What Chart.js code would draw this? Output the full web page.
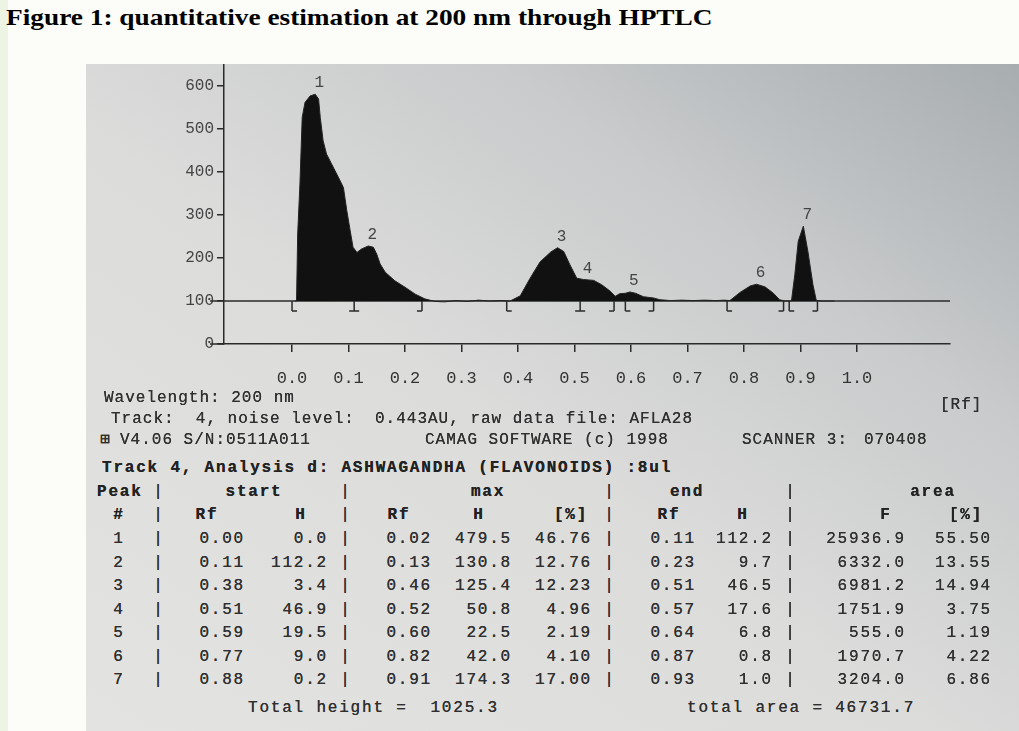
<!DOCTYPE html>
<html lang="en">
<head>
<meta charset="UTF-8">
<title>Figure 1: quantitative estimation at 200 nm through HPTLC</title>
<script src="https://cdn.jsdelivr.net/npm/chart.js"></script>
<style>
  body { margin: 0; width: 1019px; height: 731px; position: relative; overflow: hidden; background: #eef4e3; }
  .folha { position: absolute; left: 8px; top: 0; right: 0; bottom: 0; background: #fcfdf9; }
  .titulo { position: absolute; left: 6px; top: 4px; font: bold 24px "Liberation Serif", serif; color: #000; white-space: nowrap; transform-origin: 0 0; }
  .foto { position: absolute; left: 86px; top: 64px; width: 933px; height: 667px;
    background: linear-gradient(to bottom left, #a8adb0 0%, #c9cbcc 28%, #dcdcdb 55%, #e3e3e1 100%); }
  #grafico { position: absolute; left: 0; top: 0; }
  .t { position: absolute; white-space: pre; font: 16px "Liberation Mono", monospace; letter-spacing: 1px; color: #2f2f2f; line-height: 1; text-shadow: 0 0 0.6px #2f2f2f; }
  .tab { letter-spacing: 1.8px; }
  .b { font-weight: bold; color: #222; }
</style>
</head>
<body>
<div class="folha"></div>
<div class="titulo" id="titulo">Figure 1: quantitative estimation at 200 nm through HPTLC</div>
<div class="foto"></div>
<canvas id="grafico" width="1019" height="400"></canvas>
<div id="textos"></div>

<script>
  // scan da trilha 4 (Rf x AU)
  const rfScan = [
    0.005, 0.008, 0.010, 0.014, 0.018, 0.023, 0.032, 0.041, 0.047, 0.050,
    0.055, 0.061, 0.070, 0.082, 0.091, 0.097, 0.103, 0.108, 0.115, 0.123,
    0.135, 0.144, 0.150, 0.156, 0.165, 0.182, 0.200, 0.218, 0.235, 0.253,
    0.270, 0.290, 0.310, 0.330, 0.350, 0.370, 0.386, 0.404, 0.421, 0.439,
    0.458, 0.470, 0.481, 0.492, 0.504, 0.516, 0.534, 0.548, 0.563, 0.572,
    0.580, 0.590, 0.598, 0.608, 0.622, 0.640, 0.651, 0.670, 0.690, 0.710,
    0.730, 0.750, 0.765, 0.775, 0.793, 0.811, 0.822, 0.837, 0.852, 0.863,
    0.872, 0.880, 0.884, 0.890, 0.896, 0.905, 0.913, 0.922, 0.928, 0.940,
    0.960
  ];
  const auScan = [
    100, 100, 256, 372, 527, 562, 577, 581, 570, 527,
    473, 442, 419, 388, 364, 310, 263, 225, 213, 221,
    228, 225, 209, 186, 167, 147, 132, 116, 105, 99,
    98, 101, 99, 102, 100, 101, 100, 112, 152, 191,
    214, 224, 215, 184, 153, 150, 148, 138, 123, 111,
    117, 118, 121, 118, 110, 107, 103, 101, 102, 101,
    102, 101, 102, 101, 120, 135, 139, 133, 118, 103,
    100, 100, 100, 162, 239, 274, 216, 138, 101, 100,
    100
  ];
  const linhaBase = 100;
  const rfTicks = [0.0, 0.1, 0.2, 0.3, 0.4, 0.5, 0.6, 0.7, 0.8, 0.9, 1.0];
  const auTicks = [0, 100, 200, 300, 400, 500, 600];

  // tabela de picos
  const peakNo = [1, 2, 3, 4, 5, 6, 7];
  const startRf = [0.00, 0.11, 0.38, 0.51, 0.59, 0.77, 0.88];
  const startH = [0.0, 112.2, 3.4, 46.9, 19.5, 9.0, 0.2];
  const maxRf = [0.02, 0.13, 0.46, 0.52, 0.60, 0.82, 0.91];
  const maxH = [479.5, 130.8, 125.4, 50.8, 22.5, 42.0, 174.3];
  const maxPct = [46.76, 12.76, 12.23, 4.96, 2.19, 4.10, 17.00];
  const endRf = [0.11, 0.23, 0.51, 0.57, 0.64, 0.87, 0.93];
  const endH = [112.2, 9.7, 46.5, 17.6, 6.8, 0.8, 1.0];
  const areaF = [25936.9, 6332.0, 6981.2, 1751.9, 555.0, 1970.7, 3204.0];
  const areaPct = [55.50, 13.55, 14.94, 3.75, 1.19, 4.22, 6.86];
  const totalHeight = 1025.3;
  const totalArea = 46731.7;

  const corTraco = '#2a2a2a';
  const fonteMono = 'Liberation Mono';

  // titulo com a largura do original
  const tit = document.getElementById('titulo');
  tit.style.transform = 'scaleX(' + (706 / tit.offsetWidth) + ')';

  const marcasPlugin = {
    id: 'marcas',
    afterDatasetsDraw(chart) {
      const { ctx, scales: { x, y } } = chart;
      const yb = y.getPixelForValue(linhaBase);
      ctx.save();
      ctx.strokeStyle = corTraco;
      ctx.lineWidth = 1.5;
      // prolongamento do eixo x a esquerda
      ctx.beginPath();
      ctx.moveTo(chart.chartArea.left - 14, y.getPixelForValue(0));
      ctx.lineTo(chart.chartArea.left, y.getPixelForValue(0));
      ctx.stroke();
      // marcas de inicio / fim dos picos
      const desenha = (rf, tipo) => {
        const px = x.getPixelForValue(rf);
        ctx.beginPath();
        ctx.moveTo(px, yb);
        ctx.lineTo(px, yb + 10);
        if (tipo !== 'fim') { ctx.moveTo(px, yb + 10); ctx.lineTo(px + 5, yb + 10); }
        if (tipo !== 'ini') { ctx.moveTo(px, yb + 10); ctx.lineTo(px - 5, yb + 10); }
        ctx.stroke();
      };
      peakNo.forEach((p, i) => {
        if (i === 0 || endRf[i - 1] !== startRf[i]) desenha(startRf[i], 'ini');
        const junta = i < peakNo.length - 1 && startRf[i + 1] === endRf[i];
        desenha(endRf[i], junta ? 'ambos' : 'fim');
      });
      // numero dos picos
      ctx.fillStyle = '#444';
      ctx.font = '16px "' + fonteMono + '"';
      ctx.textAlign = 'center';
      ctx.textBaseline = 'bottom';
      peakNo.forEach((p, i) => {
        let best = -1;
        rfScan.forEach((rf, j) => {
          if (rf >= startRf[i] && rf <= endRf[i] && (best < 0 || auScan[j] > auScan[best])) best = j;
        });
        ctx.fillText(String(p), x.getPixelForValue(rfScan[best]) + 4, y.getPixelForValue(auScan[best]) - 3);
      });
      ctx.restore();
    }
  };

  const ctx = document.getElementById('grafico').getContext('2d');
  new Chart(ctx, {
    type: 'line',
    data: {
      datasets: [{
        data: rfScan.map((rf, i) => ({ x: rf, y: auScan[i] })),
        borderColor: '#222',
        borderWidth: 1,
        pointRadius: 0,
        tension: 0,
        fill: { target: { value: linhaBase }, above: '#111', below: 'rgba(0,0,0,0)' }
      }, {
        data: [{ x: -0.145, y: linhaBase }, { x: 1.1646, y: linhaBase }],
        borderColor: corTraco,
        borderWidth: 1.5,
        pointRadius: 0,
        clip: false
      }]
    },
    options: {
      responsive: false,
      animation: false,
      devicePixelRatio: 1,
      layout: { padding: { left: 0, top: 65, right: 69, bottom: 0 } },
      plugins: { legend: { display: false }, tooltip: { enabled: false } },
      scales: {
        x: {
          type: 'linear',
          min: -0.1204,
          max: 1.1646,
          afterBuildTicks: s => { s.ticks = rfTicks.map(v => ({ value: v })); },
          afterFit: s => { s.height = 56; },
          grid: { drawOnChartArea: false, tickLength: 8, color: corTraco, lineWidth: 1.5 },
          border: { color: corTraco, width: 1.5 },
          ticks: { color: '#333', padding: 16, font: { family: fonteMono, size: 17 }, callback: v => v.toFixed(1) }
        },
        y: {
          min: 0,
          max: 649,
          afterBuildTicks: s => { s.ticks = auTicks.map(v => ({ value: v })); },
          afterFit: s => { s.width = 224; },
          grid: { drawOnChartArea: false, tickLength: 7, color: corTraco, lineWidth: 1.5 },
          border: { color: corTraco, width: 1.5 },
          ticks: { color: '#444', padding: 3, font: { family: fonteMono, size: 16 }, callback: v => String(v) }
        }
      }
    },
    plugins: [marcasPlugin]
  });

  // textos impressos abaixo do grafico
  const caixa = document.getElementById('textos');
  function put(txt, x, y, alinha, classes) {
    const d = document.createElement('div');
    d.className = 't ' + (classes || '');
    d.textContent = txt;
    d.style.left = x + 'px';
    d.style.top = y + 'px';
    const dx = alinha === 'right' ? '-100%' : alinha === 'center' ? '-50%' : '0';
    d.style.transform = 'translate(' + dx + ', -50%)';
    caixa.appendChild(d);
  }

  put('Wavelength: 200 nm', 104, 398);
  put('[Rf]', 940, 405);
  put('Track:  4, noise level:', 111, 419);
  put('0.443AU, raw data file: AFLA28', 375, 419);
  put('\u229E', 100, 440);
  put('V4.06 S/N:0511A011', 120, 440);
  put('CAMAG SOFTWARE (c) 1998', 425, 440);
  put('SCANNER 3:', 742, 440);
  put('070408', 864, 440);
  put('Track 4, Analysis d: ASHWAGANDHA (FLAVONOIDS) :8ul', 102, 468, 'left', 'tab b');

  const sep = [159, 346, 610, 791];
  const h1 = 492, h2 = 515, linha0 = 539, passo = 23.5;
  put('Peak', 97, h1, 'left', 'tab b');
  put('start', 254, h1, 'center', 'tab b');
  put('max', 488, h1, 'center', 'tab b');
  put('end', 687, h1, 'center', 'tab b');
  put('area', 933, h1, 'center', 'tab b');
  put('#', 119, h2, 'center', 'tab b');
  [['Rf', 207], ['H', 301], ['Rf', 399], ['H', 479], ['[%]', 571], ['Rf', 669], ['H', 743], ['F', 886], ['[%]', 966]]
    .forEach(([t, cx]) => put(t, cx, h2, 'center', 'tab b'));
  [h1, h2].forEach(yy => sep.forEach(sx => put('|', sx, yy, 'center', 'tab')));

  peakNo.forEach((p, i) => {
    const yy = linha0 + i * passo;
    put(String(p), 119, yy, 'center', 'tab');
    sep.forEach(sx => put('|', sx, yy, 'center', 'tab'));
    put(startRf[i].toFixed(2), 245, yy, 'right', 'tab');
    put(startH[i].toFixed(1), 328, yy, 'right', 'tab');
    put(maxRf[i].toFixed(2), 432, yy, 'right', 'tab');
    put(maxH[i].toFixed(1), 512, yy, 'right', 'tab');
    put(maxPct[i].toFixed(2), 592, yy, 'right', 'tab');
    put(endRf[i].toFixed(2), 696, yy, 'right', 'tab');
    put(endH[i].toFixed(1), 773, yy, 'right', 'tab');
    put(areaF[i].toFixed(1), 906, yy, 'right', 'tab');
    put(areaPct[i].toFixed(2), 992, yy, 'right', 'tab');
  });
  put('Total height =  ' + totalHeight.toFixed(1), 248, 708, 'left', 'tab');
  put('total area = ' + totalArea.toFixed(1), 687, 708, 'left', 'tab');
</script>
</body>
</html>
